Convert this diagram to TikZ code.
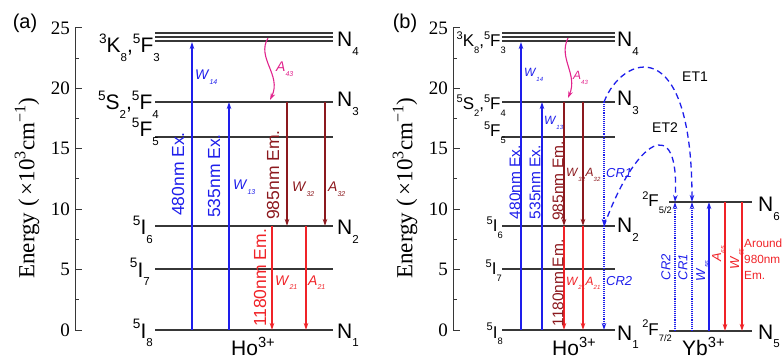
\documentclass[tikz,border=0pt]{standalone}
\usepackage{fontspec}
\setmainfont{Liberation Sans}
\newfontfamily\axisfont{Liberation Serif}
\usetikzlibrary{arrows.meta}
\definecolor{hoBlue}{RGB}{30,30,235}
\definecolor{hoMaroon}{RGB}{140,25,30}
\definecolor{hoRed}{RGB}{240,35,40}
\definecolor{hoPink}{RGB}{225,35,140}
\definecolor{hoGray}{RGB}{55,55,55}
\newcommand{\lowsub}[1]{\raisebox{-0.4em}{\scalebox{0.55}{#1}}}
\newcommand{\term}[3]{\raisebox{0.45em}{\scalebox{0.65}{#1}}#2\lowsub{#3}}
\newcommand{\rate}[2]{\textit{#1}\raisebox{-0.35em}{\scalebox{0.5}{\textit{#2}}}}

\begin{document}
\begin{tikzpicture}[x=1pt,y=-1pt,
  lvline/.style={draw=hoGray,line width=1.5pt},
  axline/.style={draw=hoGray,line width=1pt},
  headtip/.style={-{Stealth[length=7pt,width=4.5pt]}},
  exarrow/.style={headtip,draw=hoBlue,line width=1.1pt},
  emarrow/.style={headtip,draw=hoMaroon,line width=1.1pt},
  irarrow/.style={headtip,draw=hoRed,line width=1.1pt},
  relarrow/.style={headtip,draw=hoPink,line width=1.1pt},
  crarrow/.style={headtip,draw=hoBlue,line width=1.1pt,densely dotted},
  etarrow/.style={headtip,draw=hoBlue,line width=1.3pt,dash pattern=on 6pt off 4pt},
  termA/.style={anchor=base east,inner sep=0pt,font=\fontsize{21}{24}\selectfont},
  termB/.style={termA,font=\fontsize{17}{20}\selectfont},
  nlab/.style={anchor=base west,inner sep=0pt,font=\fontsize{21}{24}\selectfont},
  ticklab/.style={anchor=east,inner sep=0pt,font=\axisfont\fontsize{19}{22}\selectfont},
  ylab/.style={rotate=90,inner sep=0pt,font=\axisfont\fontsize{23}{26}\selectfont},
  vlabA/.style={rotate=90,inner sep=0pt,font=\fontsize{17.5}{20}\selectfont},
  vlabB/.style={vlabA,font=\fontsize{15.5}{18}\selectfont},
  vlabY/.style={vlabA,font=\fontsize{13}{15}\selectfont},
  rlabA/.style={anchor=base west,inner sep=0pt,font=\fontsize{14}{16}\selectfont},
  rlabB/.style={rlabA,font=\fontsize{12}{14}\selectfont}
]
  \useasboundingbox (0,0) rectangle (782,358);

  % axes of both panels
  \node[font=\fontsize{20}{24}\selectfont] (tagA) at (25,23) {(a)};
  \node[font=\fontsize{20}{24}\selectfont] (tagB) at (405,23) {(b)};
  \node[ylab] (yaxA) at (27,188) {Energy (\,×10\textsuperscript{3}cm\textsuperscript{−1})};
  \node[ylab] (yaxB) at (405,188) {Energy (\,×10\textsuperscript{3}cm\textsuperscript{−1})};
  \draw[axline] (75,28) -- (75,330);
  \draw[axline] (453,28) -- (453,330);
  \foreach \e in {0,5,...,25} {
    \draw[axline] (75,{330-12.08*\e}) -- ++(7,0);
    \draw[axline] (453,{330-12.08*\e}) -- ++(7,0);
    \node[ticklab] (tickA\e) at (70,{330-12.08*\e}) {\e};
    \node[ticklab] (tickB\e) at (448,{330-12.08*\e}) {\e};
  }
  \foreach \e in {2.5,7.5,...,22.5} {
    \draw[axline] (75,{330-12.08*\e}) -- ++(4,0);
    \draw[axline] (453,{330-12.08*\e}) -- ++(4,0);
  }

  % (a) Ho levels
  \draw[lvline,line width=1.1pt] (155,33) -- (333,33);
  \draw[lvline,line width=1.1pt] (155,37) -- (333,37);
  \draw[lvline,line width=1.1pt] (155,41) -- (333,41);
  \draw[lvline] (155,102) -- (333,102);
  \draw[lvline] (155,137) -- (333,137);
  \draw[lvline] (155,226) -- (333,226);
  \draw[lvline] (155,269) -- (333,269);
  \draw[lvline] (155,330) -- (333,330);
  \node[termA] (kA) at (160,53) {\term{3}{K}{8},\term{5}{F}{3}};
  \node[termA] (sA) at (159,110) {\term{5}{S}{2},\term{5}{F}{4}};
  \node[termA] (fA) at (159,137) {\term{5}{F}{5}};
  \node[termA] (i6A) at (153,235) {\term{5}{I}{6}};
  \node[termA] (i7A) at (150,277) {\term{5}{I}{7}};
  \node[termA] (i8A) at (153,338) {\term{5}{I}{8}};
  \node[nlab] (n4A) at (337,47) {N\lowsub{4}};
  \node[nlab] (n3A) at (337,107) {N\lowsub{3}};
  \node[nlab] (n2A) at (337,235) {N\lowsub{2}};
  \node[nlab] (n1A) at (337,338) {N\lowsub{1}};
  \node[nlab] (hoA) at (231,355) {Ho\textsuperscript{3+}};

  \coordinate (a480s) at (192,330); \coordinate (a480e) at (192,42);
  \coordinate (a535s) at (229,330); \coordinate (a535e) at (229,102);
  \coordinate (aW32s) at (287,102); \coordinate (aW32e) at (287,226);
  \coordinate (aA32s) at (325,102); \coordinate (aA32e) at (325,226);
  \coordinate (aW21s) at (272,226); \coordinate (aW21e) at (272,330);
  \coordinate (aA21s) at (306,226); \coordinate (aA21e) at (306,330);
  \coordinate (aA43s) at (268,38);  \coordinate (aA43e) at (270,100);
  \draw[exarrow] (a480s) -- (a480e);
  \draw[exarrow] (a535s) -- (a535e);
  \draw[emarrow] (aW32s) -- (aW32e);
  \draw[emarrow] (aA32s) -- (aA32e);
  \draw[irarrow] (aW21s) -- (aW21e);
  \draw[irarrow] (aA21s) -- (aA21e);
  \draw[relarrow] (aA43s) .. controls (256,58) and (282,75) .. (aA43e);
  \node[vlabA,text=hoBlue] (l480A) at (178,174) {480nm Ex.};
  \node[vlabA,text=hoBlue] (l535A) at (214,176) {535nm Ex.};
  \node[vlabA,text=hoMaroon] (l985A) at (273,175) {985nm Em.};
  \node[vlabA,text=hoRed] (l1180A) at (260,278) {1180nm Em.};
  \node[rlabA,text=hoBlue] (w14A) at (195,80) {\rate{W}{14}};
  \node[rlabA,text=hoBlue] (w13A) at (233,190) {\rate{W}{13}};
  \node[rlabA,text=hoPink] (a43A) at (276,72) {\rate{A}{43}};
  \node[rlabA,text=hoMaroon] (w32A) at (292,192) {\rate{W}{32}};
  \node[rlabA,text=hoMaroon] (a32A) at (328,192) {\rate{A}{32}};
  \node[rlabA,text=hoRed] (w21A) at (275,285) {\rate{W}{21}};
  \node[rlabA,text=hoRed] (a21A) at (308,285) {\rate{A}{21}};

  % (b) Ho levels
  \draw[lvline,line width=1.1pt] (502,33) -- (615,33);
  \draw[lvline,line width=1.1pt] (502,37) -- (615,37);
  \draw[lvline,line width=1.1pt] (502,41) -- (615,41);
  \draw[lvline] (502,102) -- (615,102);
  \draw[lvline] (502,137) -- (615,137);
  \draw[lvline] (502,226) -- (615,226);
  \draw[lvline] (502,269) -- (615,269);
  \draw[lvline] (502,330) -- (615,330);
  \node[termB] (kB) at (506,47) {\term{3}{K}{8},\term{5}{F}{3}};
  \node[termB] (sB) at (506,110) {\term{5}{S}{2},\term{5}{F}{4}};
  \node[termB] (fB) at (506,137) {\term{5}{F}{5}};
  \node[termB] (i6B) at (503,232) {\term{5}{I}{6}};
  \node[termB] (i7B) at (502,275) {\term{5}{I}{7}};
  \node[termB] (i8B) at (503,338) {\term{5}{I}{8}};
  \node[nlab] (n4B) at (617,47) {N\lowsub{4}};
  \node[nlab] (n3B) at (617,106) {N\lowsub{3}};
  \node[nlab] (n2B) at (617,233) {N\lowsub{2}};
  \node[nlab] (n1B) at (617,340) {N\lowsub{1}};
  \node[nlab] (hoB) at (552,355) {Ho\textsuperscript{3+}};

  \coordinate (b480s) at (521,330); \coordinate (b480e) at (521,42);
  \coordinate (b535s) at (542,330); \coordinate (b535e) at (542,102);
  \coordinate (bW32s) at (564,102); \coordinate (bW32e) at (564,226);
  \coordinate (bA32s) at (583,102); \coordinate (bA32e) at (583,226);
  \coordinate (bW21e) at (564,330); \coordinate (bA21e) at (583,330);
  \coordinate (bA43s) at (568,38);  \coordinate (bA43e) at (568,98);
  \coordinate (bN3r) at (604,102); \coordinate (bN2r) at (604,226);
  \coordinate (bN1r) at (604,330);
  \draw[exarrow] (b480s) -- (b480e);
  \draw[exarrow] (b535s) -- (b535e);
  \draw[emarrow] (bW32s) -- (bW32e);
  \draw[emarrow] (bA32s) -- (bA32e);
  \draw[irarrow] (bW32e) -- (bW21e);
  \draw[irarrow] (bA32e) -- (bA21e);
  \draw[relarrow] (bA43s) .. controls (558,58) and (578,74) .. (bA43e);
  \draw[crarrow] (bN3r) -- (bN2r);
  \draw[crarrow] (bN2r) -- (bN1r);
  \node[vlabB,text=hoBlue] (l480B) at (515,182) {480nm Ex.};
  \node[vlabB,text=hoBlue] (l535B) at (535,182) {535nm Ex.};
  \node[vlabB,text=hoMaroon] (l985B) at (558,181) {985nm Em.};
  \node[vlabB,text=hoMaroon] (l1180B) at (558,283) {1180nm Em.};
  \node[rlabB,text=hoBlue] (w14B) at (524,77) {\rate{W}{14}};
  \node[rlabB,text=hoBlue] (w13B) at (544,125) {\rate{W}{13}};
  \node[rlabB,text=hoPink] (a43B) at (573,80) {\rate{A}{43}};
  \node[rlabB,text=hoMaroon] (w32B) at (566,177) {\rate{W}{32}};
  \node[rlabB,text=hoMaroon] (a32B) at (585.5,177) {\rate{A}{32}};
  \node[rlabB,text=hoRed] (w21B) at (566,285) {\rate{W}{21}};
  \node[rlabB,text=hoRed] (a21B) at (585.5,285) {\rate{A}{21}};
  \node[rlabB,text=hoBlue,font=\fontsize{13}{15}\selectfont\itshape] (cr1B) at (606,178) {CR1};
  \node[rlabB,text=hoBlue,font=\fontsize{13}{15}\selectfont\itshape] (cr2B) at (606,285) {CR2};

  % (b) Yb levels
  \draw[lvline] (669,202) -- (752,202);
  \draw[lvline] (669,331) -- (752,331);
  \node[termB] (f52) at (672,207) {\term{2}{F}{5/2}};
  \node[termB] (f72) at (672,335) {\term{2}{F}{7/2}};
  \node[nlab] (n6) at (758,212) {N\lowsub{6}};
  \node[nlab] (n5) at (758,339) {N\lowsub{5}};
  \node[nlab] (yb) at (682,355) {Yb\textsuperscript{3+}};

  \coordinate (yCR2s) at (675,331); \coordinate (yCR2e) at (675,202);
  \coordinate (yCR1s) at (692,331); \coordinate (yCR1e) at (692,202);
  \coordinate (yW56s) at (709,331); \coordinate (yW56e) at (709,202);
  \coordinate (yA65s) at (725,202); \coordinate (yA65e) at (725,331);
  \coordinate (yW65s) at (742,202); \coordinate (yW65e) at (742,331);
  \draw[crarrow] (yCR2s) -- (yCR2e);
  \draw[crarrow] (yCR1s) -- (yCR1e);
  \draw[exarrow] (yW56s) -- (yW56e);
  \draw[irarrow] (yA65s) -- (yA65e);
  \draw[irarrow] (yW65s) -- (yW65e);
  \draw[etarrow] (bN3r) .. controls (622,55) and (692,30) .. (yCR1e);
  \draw[etarrow] (bN2r) .. controls (635,140) and (680,110) .. (yCR2e);
  \node[rlabA] (et1) at (682,82) {ET1};
  \node[rlabA] (et2) at (652,133) {ET2};
  \node[vlabY,text=hoBlue,font=\fontsize{13}{15}\selectfont\itshape] (cr2Y) at (666,267) {CR2};
  \node[vlabY,text=hoBlue,font=\fontsize{13}{15}\selectfont\itshape] (cr1Y) at (683,267) {CR1};
  \node[vlabY,text=hoBlue] (w56Y) at (703,271) {\rate{W}{56}};
  \node[vlabY,text=hoRed] (a65Y) at (719,254) {\rate{A}{65}};
  \node[vlabY,text=hoRed] (w65Y) at (737,259) {\rate{W}{65}};
  \node[anchor=north west,inner sep=0pt,align=left,text=hoRed,
        font=\fontsize{11.8}{16}\selectfont] (aroundY) at (744,239) {Around\\980nm\\Em.};
\end{tikzpicture}
\end{document}
